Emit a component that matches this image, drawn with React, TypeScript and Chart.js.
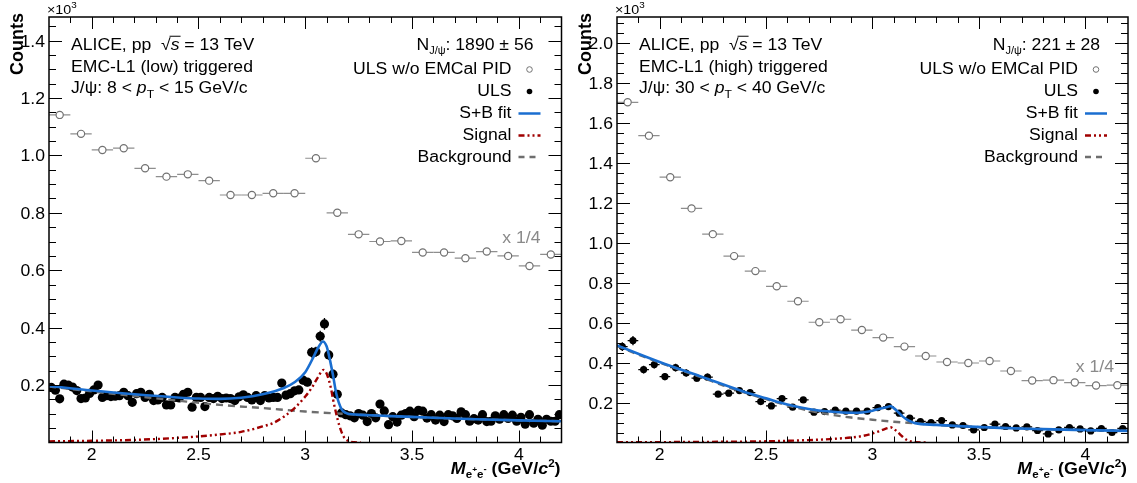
import React, { useEffect, useRef } from "react";
import { Chart, registerables } from "chart.js";

Chart.register(...registerables);

const FONT = "'Liberation Sans', Arial, Helvetica, sans-serif";
const BLUE = "#1a6ed0";
const RED = "#a00000";
const BG_GRAY = "#6e6e6e";
const OPEN_GRAY = "#727272";
const BAR_GRAY = "#8e8e8e";
const SCALE_GRAY = "#8a8a8a";

// ---------------- Left panel (EMC-L1 low, 8 < pT < 15) ----------------
const L_OPEN_X = [1.85, 1.95, 2.05, 2.15, 2.25, 2.35, 2.45, 2.55, 2.65, 2.75, 2.85, 2.95, 3.05, 3.15, 3.25, 3.35, 3.45, 3.55, 3.65, 3.75, 3.85, 3.95, 4.05, 4.15];
const L_OPEN_Y = [1.141, 1.075, 1.019, 1.025, 0.955, 0.926, 0.934, 0.912, 0.862, 0.862, 0.868, 0.868, 0.99, 0.8, 0.725, 0.7, 0.702, 0.662, 0.662, 0.642, 0.665, 0.65, 0.615, 0.655];

const L_ULS_X = [
  1.81, 1.83, 1.85, 1.87, 1.89, 1.91, 1.93, 1.95, 1.97, 1.99,
  2.01, 2.03, 2.05, 2.07, 2.09, 2.11, 2.13, 2.15, 2.17, 2.19,
  2.21, 2.23, 2.25, 2.27, 2.29, 2.31, 2.33, 2.35, 2.37, 2.39,
  2.41, 2.43, 2.45, 2.47, 2.49, 2.51, 2.53, 2.55, 2.57, 2.59,
  2.61, 2.63, 2.65, 2.67, 2.69, 2.71, 2.73, 2.75, 2.77, 2.79,
  2.81, 2.83, 2.85, 2.87, 2.89, 2.91, 2.93, 2.95, 2.97, 2.99,
  3.01, 3.03, 3.05, 3.07, 3.09, 3.11, 3.13, 3.15, 3.17, 3.19,
  3.21, 3.23, 3.25, 3.27, 3.29, 3.31, 3.33, 3.35, 3.37, 3.39,
  3.41, 3.43, 3.45, 3.47, 3.49, 3.51, 3.53, 3.55, 3.57, 3.59,
  3.61, 3.63, 3.65, 3.67, 3.69, 3.71, 3.73, 3.75, 3.77, 3.79,
  3.81, 3.83, 3.85, 3.87, 3.89, 3.91, 3.93, 3.95, 3.97, 3.99,
  4.01, 4.03, 4.05, 4.07, 4.09, 4.11, 4.13, 4.15, 4.17, 4.19,
];
const L_ULS_Y = [
  0.192, 0.182, 0.152, 0.203, 0.2, 0.193, 0.181, 0.153, 0.155, 0.171,
  0.183, 0.2, 0.157, 0.163, 0.16, 0.161, 0.163, 0.175, 0.163, 0.14,
  0.17, 0.175, 0.157, 0.168, 0.146, 0.148, 0.157, 0.131, 0.131, 0.157,
  0.155, 0.168, 0.175, 0.123, 0.157, 0.157, 0.125, 0.157, 0.153, 0.161,
  0.153, 0.155, 0.153, 0.146, 0.159, 0.166, 0.157, 0.148, 0.163, 0.146,
  0.163, 0.155, 0.157, 0.157, 0.207, 0.165, 0.17, 0.18, 0.183, 0.217,
  0.21, 0.314, 0.316, 0.37, 0.413, 0.305, 0.238, 0.168, 0.103, 0.097,
  0.093, 0.086, 0.101, 0.095, 0.073, 0.101, 0.086, 0.134, 0.11, 0.062,
  0.09, 0.071, 0.095, 0.101, 0.109, 0.09, 0.112, 0.109, 0.085, 0.097,
  0.078, 0.095, 0.073, 0.097, 0.093, 0.084, 0.107, 0.097, 0.074, 0.083,
  0.078, 0.097, 0.073, 0.074, 0.093, 0.081, 0.097, 0.084, 0.095, 0.074,
  0.088, 0.064, 0.097, 0.067, 0.081, 0.06, 0.081, 0.074, 0.074, 0.097,
];

const L_FIT_X = [1.8, 2.0, 2.2, 2.4, 2.5, 2.6, 2.7, 2.8, 2.9, 2.95, 3.0, 3.04, 3.06, 3.083, 3.1, 3.11, 3.13, 3.146, 3.17, 3.19, 3.21, 3.24, 3.3, 3.4, 3.6, 3.8, 4.0, 4.2];
const L_FIT_Y = [0.197, 0.181, 0.168, 0.157, 0.153, 0.152, 0.156, 0.168, 0.19, 0.21, 0.245, 0.3, 0.33, 0.352, 0.335, 0.307, 0.234, 0.168, 0.116, 0.103, 0.099, 0.097, 0.095, 0.092, 0.086, 0.081, 0.077, 0.074];
const L_SIG_X = [1.8, 2.0, 2.2, 2.4, 2.5, 2.6, 2.7, 2.8, 2.85, 2.9, 2.95, 3.0, 3.03, 3.06, 3.085, 3.1, 3.12, 3.13, 3.145, 3.16, 3.18, 3.2, 3.23, 3.26];
const L_SIG_Y = [0.004, 0.006, 0.009, 0.016, 0.021, 0.028, 0.037, 0.056, 0.068, 0.09, 0.12, 0.16, 0.19, 0.228, 0.253, 0.24, 0.19, 0.151, 0.1, 0.058, 0.02, 0.006, 0.001, 0.0];
const L_BG_X = [1.8, 2.0, 2.2, 2.4, 2.6, 2.8, 3.0, 3.2, 3.4, 3.6, 3.8, 4.0, 4.2];
const L_BG_Y = [0.195, 0.178, 0.162, 0.146, 0.131, 0.12, 0.108, 0.099, 0.092, 0.086, 0.081, 0.077, 0.074];

// ---------------- Right panel (EMC-L1 high, 30 < pT < 40) ----------------
const R_OPEN_X = [1.85, 1.95, 2.05, 2.15, 2.25, 2.35, 2.45, 2.55, 2.65, 2.75, 2.85, 2.95, 3.05, 3.15, 3.25, 3.35, 3.45, 3.55, 3.65, 3.75, 3.85, 3.95, 4.05, 4.15];
const R_OPEN_Y = [1.703, 1.536, 1.328, 1.172, 1.043, 0.933, 0.858, 0.782, 0.707, 0.602, 0.617, 0.563, 0.525, 0.48, 0.433, 0.403, 0.398, 0.408, 0.358, 0.31, 0.312, 0.3, 0.285, 0.287];

const R_ULS_X = [
  1.825, 1.875, 1.925, 1.975, 2.025, 2.075, 2.125, 2.175, 2.225, 2.275,
  2.325, 2.375, 2.425, 2.475, 2.525, 2.575, 2.625, 2.675, 2.725, 2.775,
  2.825, 2.875, 2.925, 2.975, 3.025, 3.075, 3.125, 3.175, 3.225, 3.275,
  3.325, 3.375, 3.425, 3.475, 3.525, 3.575, 3.625, 3.675, 3.725, 3.775,
  3.825, 3.875, 3.925, 3.975, 4.025, 4.075, 4.125, 4.175,
];
const R_ULS_Y = [
  0.48, 0.51, 0.365, 0.39, 0.33, 0.375, 0.348, 0.322, 0.327, 0.242,
  0.247, 0.26, 0.25, 0.205, 0.183, 0.22, 0.177, 0.213, 0.152, 0.155,
  0.162, 0.157, 0.157, 0.157, 0.175, 0.18, 0.147, 0.122, 0.105, 0.1,
  0.11, 0.088, 0.085, 0.063, 0.075, 0.092, 0.08, 0.073, 0.078, 0.06,
  0.043, 0.063, 0.075, 0.068, 0.058, 0.07, 0.05, 0.07,
];

const R_FIT_X = [1.8, 2.0, 2.2, 2.4, 2.5, 2.6, 2.7, 2.8, 2.9, 2.95, 3.0, 3.04, 3.07, 3.085, 3.1, 3.12, 3.14, 3.16, 3.18, 3.2, 3.3, 3.4, 3.6, 3.8, 4.0, 4.2];
const R_FIT_Y = [0.486, 0.403, 0.328, 0.253, 0.221, 0.19, 0.168, 0.155, 0.149, 0.15, 0.159, 0.17, 0.178, 0.182, 0.172, 0.153, 0.132, 0.116, 0.105, 0.097, 0.088, 0.082, 0.073, 0.067, 0.062, 0.058];
const R_SIG_X = [1.8, 2.2, 2.5, 2.7, 2.8, 2.9, 2.95, 3.0, 3.04, 3.07, 3.085, 3.1, 3.12, 3.14, 3.16, 3.18, 3.2, 3.26];
const R_SIG_Y = [0.001, 0.003, 0.006, 0.012, 0.017, 0.025, 0.032, 0.045, 0.06, 0.072, 0.076, 0.068, 0.05, 0.03, 0.014, 0.005, 0.001, 0.0];
const R_BG_X = [1.8, 1.9, 2.0, 2.1, 2.2, 2.3, 2.4, 2.5, 2.6, 2.7, 2.8, 2.9, 3.0, 3.1, 3.2, 3.3, 3.4, 3.5, 3.6, 3.8, 4.0, 4.2];
const R_BG_Y = [0.485, 0.44, 0.4, 0.362, 0.325, 0.285, 0.25, 0.217, 0.186, 0.16, 0.14, 0.125, 0.114, 0.104, 0.096, 0.088, 0.082, 0.077, 0.073, 0.067, 0.062, 0.058];

// tick labels
const X_TICKS = [2, 2.5, 3, 3.5, 4];
const X_TICK_LABELS = ["2", "2.5", "3", "3.5", "4"];

type Seg = { t: string; size?: number; bold?: boolean; italic?: boolean; dy?: number; overline?: boolean; color?: string };

function fontOf(s: Seg, base: number) {
  return `${s.italic ? "italic " : ""}${s.bold ? "bold " : ""}${s.size ?? base}px ${FONT}`;
}

function drawRich(
  ctx: CanvasRenderingContext2D,
  segs: Seg[],
  x: number,
  y: number,
  align: "left" | "right" | "center",
  base = 16,
  sx = 1.1,
  color = "#000"
) {
  ctx.save();
  const widths = segs.map((s) => {
    ctx.font = fontOf(s, base);
    return ctx.measureText(s.t).width;
  });
  const total = widths.reduce((a, b) => a + b, 0);
  const x0 = align === "right" ? x - total * sx : align === "center" ? x - (total * sx) / 2 : x;
  ctx.translate(x0, y);
  ctx.scale(sx, 1);
  ctx.textBaseline = "alphabetic";
  ctx.textAlign = "left";
  let cx = 0;
  segs.forEach((s, i) => {
    ctx.font = fontOf(s, base);
    ctx.fillStyle = s.color ?? color;
    ctx.fillText(s.t, cx, s.dy ?? 0);
    if (s.overline) {
      ctx.strokeStyle = s.color ?? color;
      ctx.lineWidth = 1;
      const oy = (s.dy ?? 0) - (s.size ?? base) * 0.86;
      ctx.beginPath();
      ctx.moveTo(cx - 1, oy);
      ctx.lineTo(cx + widths[i] + 1, oy);
      ctx.stroke();
    }
    cx += widths[i];
  });
  ctx.restore();
}

type PanelCfg = {
  ymax: number;
  pad: { left: number; right: number; top: number; bottom: number };
  openX: number[];
  openY: number[];
  openHalfW: number;
  ulsX: number[];
  ulsY: number[];
  ulsHalfW: number;
  ulsR: number;
  fitX: number[];
  fitY: number[];
  sigX: number[];
  sigY: number[];
  bgX: number[];
  bgY: number[];
  trigger: string;
  ptLo: string;
  ptHi: string;
  nVal: string;
  nErr: string;
  scaleRight: number;
  scaleBase: number;
};

const LEFT_CFG: PanelCfg = {
  ymax: 1.482,
  pad: { left: 49, right: 6.5, top: 17, bottom: 40.5 },
  openX: L_OPEN_X,
  openY: L_OPEN_Y,
  openHalfW: 0.05,
  ulsX: L_ULS_X,
  ulsY: L_ULS_Y,
  ulsHalfW: 0.01,
  ulsR: 4.6,
  fitX: L_FIT_X,
  fitY: L_FIT_Y,
  sigX: L_SIG_X,
  sigY: L_SIG_Y,
  bgX: L_BG_X,
  bgY: L_BG_Y,
  trigger: "EMC-L1 (low) triggered",
  ptLo: "8",
  ptHi: "15",
  nVal: "1890",
  nErr: "56",
  scaleRight: 21,
  scaleBase: 243,
};

const RIGHT_CFG: PanelCfg = {
  ymax: 2.13,
  pad: { left: 49, right: 9, top: 17, bottom: 40.5 },
  openX: R_OPEN_X,
  openY: R_OPEN_Y,
  openHalfW: 0.05,
  ulsX: R_ULS_X,
  ulsY: R_ULS_Y,
  ulsHalfW: 0.025,
  ulsR: 3.6,
  fitX: R_FIT_X,
  fitY: R_FIT_Y,
  sigX: R_SIG_X,
  sigY: R_SIG_Y,
  bgX: R_BG_X,
  bgY: R_BG_Y,
  trigger: "EMC-L1 (high) triggered",
  ptLo: "30",
  ptHi: "40",
  nVal: "221",
  nErr: "28",
  scaleRight: 14,
  scaleBase: 372,
};

const pts = (xs: number[], ys: number[]) => xs.map((x, i) => ({ x, y: ys[i] }));

function makePlugin(cfg: PanelCfg) {
  return {
    id: "rootStyle",
    beforeDatasetsDraw(chart: any) {
      const ctx: CanvasRenderingContext2D = chart.ctx;
      const xs = chart.scales.x;
      const ys = chart.scales.y;
      const ca = chart.chartArea;
      ctx.save();
      ctx.beginPath();
      ctx.rect(ca.left, ca.top, ca.right - ca.left, ca.bottom - ca.top);
      ctx.clip();
      ctx.strokeStyle = BAR_GRAY;
      ctx.lineWidth = 1.2;
      cfg.openX.forEach((x, i) => {
        const py = ys.getPixelForValue(cfg.openY[i]);
        ctx.beginPath();
        ctx.moveTo(xs.getPixelForValue(x - cfg.openHalfW), py);
        ctx.lineTo(xs.getPixelForValue(x + cfg.openHalfW), py);
        ctx.stroke();
      });
      ctx.strokeStyle = "#000";
      ctx.lineWidth = 1.3;
      cfg.ulsX.forEach((x, i) => {
        const y = cfg.ulsY[i];
        const e = Math.sqrt(y * 1000) / 1000; // Poisson uncertainty of the count
        const px = xs.getPixelForValue(x);
        const py = ys.getPixelForValue(y);
        ctx.beginPath();
        ctx.moveTo(xs.getPixelForValue(x - cfg.ulsHalfW), py);
        ctx.lineTo(xs.getPixelForValue(x + cfg.ulsHalfW), py);
        ctx.moveTo(px, ys.getPixelForValue(y - e));
        ctx.lineTo(px, ys.getPixelForValue(y + e));
        ctx.stroke();
      });
      ctx.restore();
    },
    afterDraw(chart: any) {
      const ctx: CanvasRenderingContext2D = chart.ctx;
      const xs = chart.scales.x;
      const ys = chart.scales.y;
      const ca = chart.chartArea;
      ctx.save();
      // ticks
      ctx.strokeStyle = "#000";
      ctx.lineWidth = 1;
      for (let k = 1; k < 24; k++) {
        const v = 1.8 + k * 0.1;
        const major = Math.abs(v * 2 - Math.round(v * 2)) < 1e-6;
        const len = major ? 12 : 6;
        const px = Math.round(xs.getPixelForValue(v)) + 0.5;
        ctx.beginPath();
        ctx.moveTo(px, ca.bottom);
        ctx.lineTo(px, ca.bottom - len);
        ctx.moveTo(px, ca.top);
        ctx.lineTo(px, ca.top + len);
        ctx.stroke();
      }
      for (let k = 1; k * 0.05 < cfg.ymax; k++) {
        const v = k * 0.05;
        const major = k % 4 === 0;
        const len = major ? 13 : 7;
        const py = Math.round(ys.getPixelForValue(v)) + 0.5;
        ctx.beginPath();
        ctx.moveTo(ca.left, py);
        ctx.lineTo(ca.left + len, py);
        ctx.moveTo(ca.right, py);
        ctx.lineTo(ca.right - len, py);
        ctx.stroke();
        if (major) {
          drawRich(ctx, [{ t: v.toFixed(1) }], ca.left - 4, py + 5.5, "right", 16, 1.1);
        }
      }
      X_TICKS.forEach((v, i) => {
        drawRich(ctx, [{ t: X_TICK_LABELS[i] }], xs.getPixelForValue(v), ca.bottom + 17, "center", 16, 1.1);
      });
      // frame
      ctx.lineWidth = 1.5;
      ctx.strokeRect(ca.left, ca.top, ca.right - ca.left, ca.bottom - ca.top);

      // exponent
      drawRich(ctx, [{ t: "×10" }, { t: "3", size: 9, dy: -6 }], ca.left - 2, 14, "left", 13, 1.1);

      // y title
      ctx.save();
      ctx.translate(23, 13);
      ctx.rotate(-Math.PI / 2);
      ctx.font = `bold 18px ${FONT}`;
      ctx.fillStyle = "#000";
      ctx.textAlign = "right";
      ctx.textBaseline = "alphabetic";
      ctx.fillText("Counts", 0, 0);
      ctx.restore();

      // x title
      drawRich(
        ctx,
        [
          { t: "M", bold: true, italic: true },
          { t: "e", bold: true, size: 11, dy: 4 },
          { t: "+", bold: true, size: 8, dy: -2 },
          { t: "e", bold: true, size: 11, dy: 4 },
          { t: "-", bold: true, size: 9, dy: -2 },
          { t: " (GeV/", bold: true },
          { t: "c", bold: true, italic: true },
          { t: "2", bold: true, size: 11, dy: -7 },
          { t: ")", bold: true },
        ],
        ca.right - 1,
        474,
        "right",
        17,
        1.05
      );

      // annotation (top-left)
      const tx = ca.left + 22;
      drawRich(ctx, [{ t: "ALICE, pp  √" }, { t: "s", italic: true, overline: true }, { t: " = 13 TeV" }], tx, 50, "left");
      drawRich(ctx, [{ t: cfg.trigger }], tx, 72, "left");
      drawRich(
        ctx,
        [
          { t: "J/ψ: " + cfg.ptLo + " < " },
          { t: "p", italic: true },
          { t: "T", size: 11, dy: 5 },
          { t: " < " + cfg.ptHi + " GeV/c" },
        ],
        tx,
        93,
        "left"
      );

      // legend (top-right)
      const lx = ca.right - 50;
      drawRich(
        ctx,
        [{ t: "N" }, { t: "J/ψ", size: 10, dy: 4 }, { t: ": " + cfg.nVal + " ± " + cfg.nErr }],
        ca.right - 28,
        50,
        "right"
      );
      drawRich(ctx, [{ t: "ULS w/o EMCal PID" }], lx, 74, "right");
      drawRich(ctx, [{ t: "ULS" }], lx, 96, "right");
      drawRich(ctx, [{ t: "S+B fit" }], lx, 118, "right");
      drawRich(ctx, [{ t: "Signal" }], lx, 140, "right");
      drawRich(ctx, [{ t: "Background" }], lx, 162, "right");
      const mx = ca.right - 32;
      ctx.beginPath();
      ctx.arc(mx, 69.5, 2.8, 0, Math.PI * 2);
      ctx.fillStyle = "#fff";
      ctx.fill();
      ctx.strokeStyle = OPEN_GRAY;
      ctx.lineWidth = 1;
      ctx.stroke();
      ctx.beginPath();
      ctx.arc(mx, 91.5, 2.8, 0, Math.PI * 2);
      ctx.fillStyle = "#000";
      ctx.fill();
      const l0 = ca.right - 43;
      const l1 = ca.right - 21;
      const legLine = (y: number, color: string, dash: number[]) => {
        ctx.beginPath();
        ctx.setLineDash(dash);
        ctx.strokeStyle = color;
        ctx.lineWidth = 2.5;
        ctx.moveTo(l0, y);
        ctx.lineTo(l1, y);
        ctx.stroke();
        ctx.setLineDash([]);
      };
      legLine(113.5, BLUE, []);
      legLine(135.5, RED, [6, 3, 2, 3, 2, 3]);
      legLine(157, BG_GRAY, [6, 5]);

      // scale label
      drawRich(ctx, [{ t: "x 1/4" }], ca.right - cfg.scaleRight, cfg.scaleBase, "right", 16, 1.1, SCALE_GRAY);
      ctx.restore();
    },
  };
}

function Panel({ cfg, left, width }: { cfg: PanelCfg; left: number; width: number }) {
  const ref = useRef<HTMLCanvasElement>(null);
  useEffect(() => {
    const canvas = ref.current!;
    const chart = new Chart(canvas, {
      type: "scatter",
      data: {
        datasets: [
          {
            type: "line",
            label: "S+B fit",
            data: pts(cfg.fitX, cfg.fitY),
            borderColor: BLUE,
            borderWidth: 2.6,
            pointRadius: 0,
            cubicInterpolationMode: "monotone",
            fill: false,
            order: 0,
          } as any,
          {
            type: "line",
            label: "Signal",
            data: pts(cfg.sigX, cfg.sigY),
            borderColor: RED,
            borderWidth: 2.4,
            borderDash: [6, 3, 2, 3, 2, 3],
            pointRadius: 0,
            cubicInterpolationMode: "monotone",
            fill: false,
            order: 1,
          } as any,
          {
            type: "line",
            label: "Background",
            data: pts(cfg.bgX, cfg.bgY),
            borderColor: BG_GRAY,
            borderWidth: 2.4,
            borderDash: [7, 5],
            pointRadius: 0,
            cubicInterpolationMode: "monotone",
            fill: false,
            order: 2,
          } as any,
          {
            label: "ULS",
            data: pts(cfg.ulsX, cfg.ulsY),
            pointRadius: cfg.ulsR,
            pointBackgroundColor: "#000",
            pointBorderColor: "#000",
            pointBorderWidth: 0,
            order: 3,
          },
          {
            label: "ULS w/o EMCal PID",
            data: pts(cfg.openX, cfg.openY),
            pointRadius: 3.6,
            pointBackgroundColor: "#fff",
            pointBorderColor: OPEN_GRAY,
            pointBorderWidth: 1.2,
            order: 4,
          },
        ],
      },
      options: {
        animation: false,
        responsive: false,
        devicePixelRatio: 1,
        events: [],
        layout: { padding: cfg.pad },
        plugins: { legend: { display: false }, tooltip: { enabled: false } },
        scales: {
          x: { type: "linear", min: 1.8, max: 4.2, display: false },
          y: { type: "linear", min: 0, max: cfg.ymax, display: false },
        },
      },
      plugins: [makePlugin(cfg) as any],
    });
    return () => chart.destroy();
  }, [cfg]);
  return (
    <canvas
      ref={ref}
      width={width}
      height={483}
      style={{ position: "absolute", left, top: 0, width, height: 483 }}
    />
  );
}

export default function App() {
  return (
    <div style={{ position: "absolute", left: 0, top: 0, width: 1137, height: 483, background: "#fff" }}>
      <Panel cfg={LEFT_CFG} left={0} width={568} />
      <Panel cfg={RIGHT_CFG} left={568} width={569} />
    </div>
  );
}
